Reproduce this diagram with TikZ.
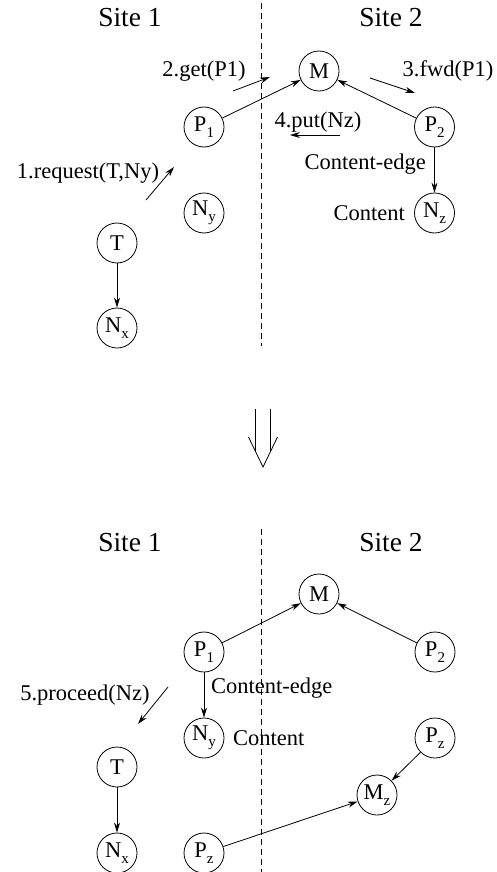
\documentclass[tikz,border=0pt]{standalone}
\usepackage{fontspec}
\setmainfont{Liberation Serif}
\usetikzlibrary{arrows.meta}
\newcommand{\sbs}[1]{\raisebox{-6pt}{\fontsize{15}{15}\selectfont #1}}
\tikzset{
  proc/.style={draw, circle, minimum size=40pt, inner sep=0pt, line width=0.8pt,
               font=\fontsize{22.5}{22.5}\selectfont},
  lbl/.style={font=\fontsize{22.5}{22.5}\selectfont, inner sep=0pt},
  head/.style={font=\fontsize{27.5}{27.5}\selectfont, inner sep=0pt},
  link/.style={line width=0.8pt, -{Stealth[length=10pt,width=6pt]}},
  msg/.style={line width=0.8pt, -{Stealth[length=10pt,width=6pt]}},
  border/.style={line width=0.8pt, dash pattern=on 6pt off 4pt},
}
\begin{document}
\begin{tikzpicture}[x=1pt, y=-1pt]
\useasboundingbox (0,0) rectangle (496,872);

% ---------- upper state ----------
\node[head] (s1a) at (130,18) {Site 1};
\node[head] (s2a) at (391,18) {Site 2};
\coordinate (da) at (261,3);
\coordinate (db) at (261,346);
\draw[border] (da) -- (db);

\node[proc] (Ma)  at (319,71)  {M};
\node[proc] (P1a) at (204,127) {P\sbs{1}};
\node[proc] (P2a) at (434.5,127) {P\sbs{2}};
\node[proc] (Nya) at (204,213) {N\sbs{y}};
\node[proc] (Nza) at (434.5,213) {N\sbs{z}};
\node[proc] (Ta)  at (117,243) {T};
\node[proc] (Nxa) at (117,328) {N\sbs{x}};

\draw[link] (P1a) -- (Ma);
\draw[link] (P2a) -- (Ma);
\draw[link] (P2a) -- (Nza);
\draw[link] (Ta) -- (Nxa);

\node[lbl, anchor=east] (ce1) at (426,164) {Content-edge};
\node[lbl, anchor=east] (ct1) at (405,213) {Content};

% messages
\node[lbl] (m1) at (88,173) {1.request(T,Ny)};
\coordinate (m1s) at (146,200);
\coordinate (m1e) at (174,167);
\draw[msg] (m1s) -- (m1e);

\node[lbl] (m2) at (204,71) {2.get(P1)};
\coordinate (m2s) at (233,91);
\coordinate (m2e) at (270,77);
\draw[msg] (m2s) -- (m2e);

\node[lbl] (m3) at (448,71) {3.fwd(P1)};
\coordinate (m3s) at (370,78);
\coordinate (m3e) at (415,93);
\draw[msg] (m3s) -- (m3e);

\node[lbl] (m4) at (318,122) {4.put(Nz)};
\coordinate (m4s) at (340,135);
\coordinate (m4e) at (290,135);
\draw[msg] (m4s) -- (m4e);

% ---------- transition ----------
\coordinate (ta) at (255.7,409);
\coordinate (tb) at (255.7,452);
\coordinate (tc) at (270.3,409);
\coordinate (td) at (270.3,452);
\coordinate (tl) at (248.5,437);
\coordinate (tt) at (263,467);
\coordinate (tr) at (277.5,437);
\draw[line width=0.8pt] (ta) -- (tb) (tc) -- (td);
\draw[line width=0.8pt] (tl) -- (tt) -- (tr);

% ---------- lower state ----------
\node[head] (s1b) at (130,543) {Site 1};
\node[head] (s2b) at (391,543) {Site 2};
\coordinate (dc) at (261,529);
\coordinate (dd) at (261,872);
\draw[border] (dc) -- (dd);

\node[proc] (Mb)   at (319,594) {M};
\node[proc] (P1b)  at (204,652) {P\sbs{1}};
\node[proc] (P2b)  at (435,652) {P\sbs{2}};
\node[proc] (Nyb)  at (204,738) {N\sbs{y}};
\node[proc] (Pzr)  at (435,738) {P\sbs{z}};
\node[proc] (Tb)   at (117,767) {T};
\node[proc] (Mz)   at (377,795) {M\sbs{z}};
\node[proc] (Nxb)  at (117,853) {N\sbs{x}};
\node[proc] (Pzl)  at (204,853) {P\sbs{z}};

\draw[link] (P1b) -- (Mb);
\draw[link] (P2b) -- (Mb);
\draw[link] (P1b) -- (Nyb);
\draw[link] (Tb) -- (Nxb);
\draw[link] (Pzr) -- (Mz);
\draw[link] (Pzl) -- (Mz);

\node[lbl, anchor=west] (ce2) at (211,688) {Content-edge};
\node[lbl, anchor=west] (ct2) at (233,738) {Content};

\node[lbl] (m5) at (85,695) {5.proceed(Nz)};
\coordinate (m5s) at (168,687);
\coordinate (m5e) at (138,724);
\draw[msg] (m5s) -- (m5e);
\end{tikzpicture}
\end{document}
